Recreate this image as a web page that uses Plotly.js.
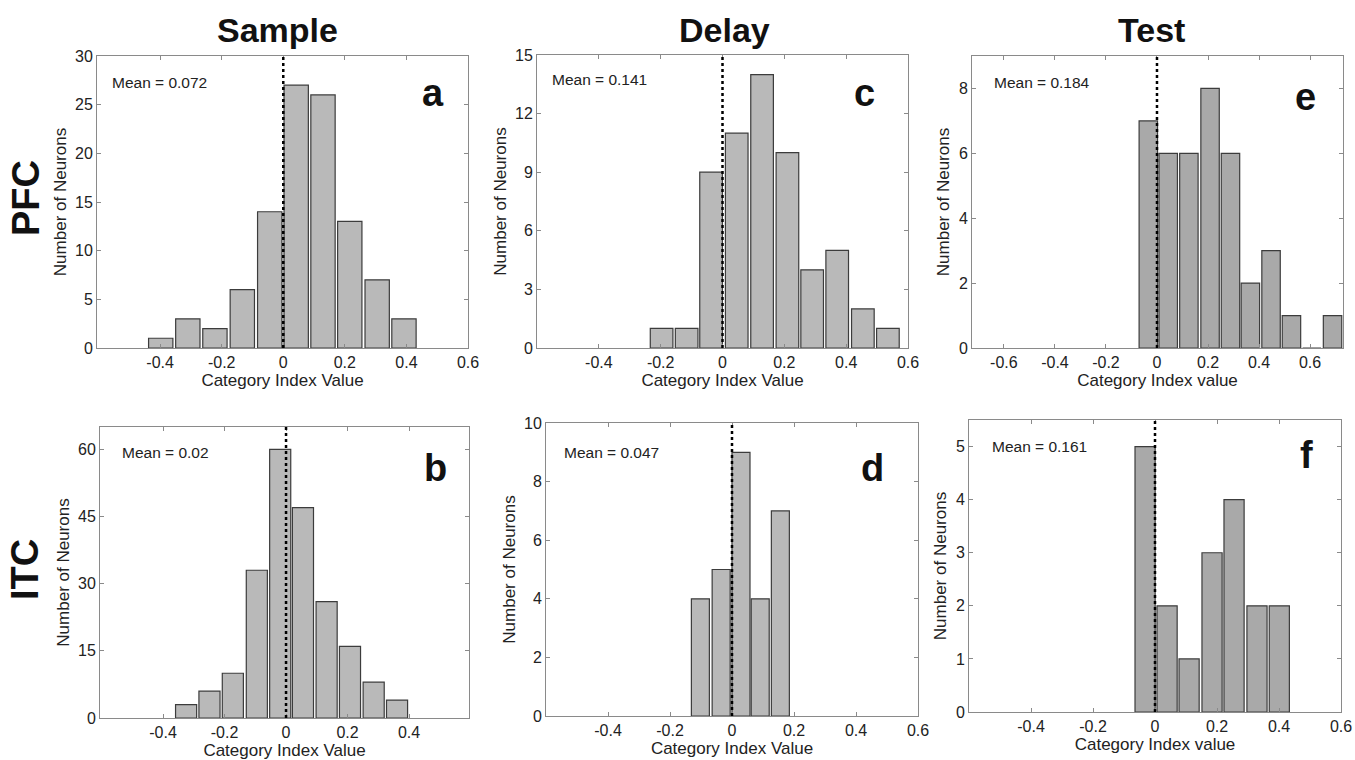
<!DOCTYPE html>
<html>
<head>
<meta charset="utf-8">
<script src="https://cdn.plot.ly/plotly-3.0.1.min.js"></script>
<style>
html,body{margin:0;padding:0;background:#fff;}
#chart{width:1355px;height:760px;}
</style>
</head>
<body>
<div id="chart"></div>
<script>
// ---- Data ----
const columnTitles = ["Sample", "Delay", "Test"];
const rowTitles = ["PFC", "ITC"];
const panelLetters = ["a", "c", "e", "b", "d", "f"];
const meanLabels = ["Mean = 0.072", "Mean = 0.141", "Mean = 0.184", "Mean = 0.02", "Mean = 0.047", "Mean = 0.161"];

// PFC – Sample (a)
const pfcSampleBins   = [-0.398, -0.310, -0.222, -0.133, -0.044, 0.042, 0.129, 0.216, 0.305, 0.392];
const pfcSampleCounts = [1, 3, 2, 6, 14, 27, 26, 13, 7, 3];
// PFC – Delay (c)
const pfcDelayBins   = [-0.197, -0.116, -0.037, 0.046, 0.128, 0.210, 0.290, 0.371, 0.454, 0.535];
const pfcDelayCounts = [1, 1, 9, 11, 14, 10, 4, 5, 2, 1];
// PFC – Test (e)
const pfcTestBins   = [-0.034, 0.044, 0.125, 0.208, 0.288, 0.366, 0.447, 0.527, 0.607, 0.688];
const pfcTestCounts = [7, 6, 6, 8, 6, 2, 3, 1, 0, 1];
// ITC – Sample (b)
const itcSampleBins   = [-0.325, -0.249, -0.173, -0.095, -0.019, 0.055, 0.132, 0.208, 0.285, 0.361];
const itcSampleCounts = [3, 6, 10, 33, 60, 47, 26, 16, 8, 4];
// ITC – Delay (d)
const itcDelayBins   = [-0.102, -0.035, 0.029, 0.091, 0.156];
const itcDelayCounts = [4, 5, 9, 4, 7];
// ITC – Test (f)
const itcTestBins   = [-0.032, 0.039, 0.110, 0.184, 0.255, 0.329, 0.401];
const itcTestCounts = [5, 2, 1, 3, 4, 2, 2];

// Tick labels
const xTicks06 = [-0.4, -0.2, 0, 0.2, 0.4, 0.6];
const xTicks06Text = ["-0.4", "-0.2", "0", "0.2", "0.4", "0.6"];
const xTicksTest = [-0.6, -0.4, -0.2, 0, 0.2, 0.4, 0.6];
const xTicksTestText = ["-0.6", "-0.4", "-0.2", "0", "0.2", "0.4", "0.6"];
const yTicksA = [0, 5, 10, 15, 20, 25, 30];
const yTicksC = [0, 3, 6, 9, 12, 15];
const yTicksE = [0, 2, 4, 6, 8];
const yTicksB = [0, 15, 30, 45, 60];
const yTicksD = [0, 2, 4, 6, 8, 10];
const yTicksF = [0, 1, 2, 3, 4, 5];
const xTitleUpper = "Category Index Value";
const xTitleLower = "Category Index value";
const yTitle = "Number of Neurons";

// ---- Layout geometry (pixels) ----
const W = 1355, H = 760;
const panels = [
  {bins: pfcSampleBins, counts: pfcSampleCounts, box:[97,468,56,348],  xr:[-0.605,0.6], yr:[0,30],  xt:xTicks06, xtt:xTicks06Text, yt:yTicksA, xtitle:xTitleUpper, fill:"#b9b9b9", mean:[0.035,0.91], letter:[0.906,0.873]},
  {bins: pfcDelayBins,  counts: pfcDelayCounts,  box:[537,908,55,348], xr:[-0.6,0.6],   yr:[0,15],  xt:xTicks06, xtt:xTicks06Text, yt:yTicksC, xtitle:xTitleUpper, fill:"#b9b9b9", mean:[0.035,0.915], letter:[0.884,0.87]},
  {bins: pfcTestBins,   counts: pfcTestCounts,   box:[972,1343,56,348],xr:[-0.725,0.729],yr:[0,9], xt:xTicksTest, xtt:xTicksTestText, yt:yTicksE, xtitle:xTitleLower, fill:"#a9a9a9", mean:[0.054,0.91], letter:[0.90,0.86]},
  {bins: itcSampleBins, counts: itcSampleCounts, box:[100,469,427,718],xr:[-0.605,0.595],yr:[0,65], xt:xTicks06, xtt:xTicks06Text, yt:yTicksB, xtitle:xTitleUpper, fill:"#b9b9b9", mean:[0.054,0.914], letter:[0.908,0.86]},
  {bins: itcDelayBins,  counts: itcDelayCounts,  box:[546,918,423,716],xr:[-0.6,0.6],   yr:[0,10],  xt:xTicks06, xtt:xTicks06Text, yt:yTicksD, xtitle:xTitleUpper, fill:"#b9b9b9", mean:[0.043,0.90], letter:[0.879,0.846]},
  {bins: itcTestBins,   counts: itcTestCounts,   box:[969,1341,420,712],xr:[-0.6,0.6],  yr:[0,5.5], xt:xTicks06, xtt:xTicks06Text, yt:yTicksF, xtitle:xTitleLower, fill:"#a9a9a9", mean:[0.057,0.91], letter:[0.906,0.88]}
];

const FONT = "Arial, 'Liberation Sans', Helvetica, sans-serif";
const data = [];
const layout = {
  width: W, height: H,
  margin: {l:0, r:0, t:0, b:0},
  paper_bgcolor: "#ffffff",
  plot_bgcolor: "#ffffff",
  showlegend: false,
  font: {family: FONT, color: "#222"},
  annotations: [],
  shapes: []
};

panels.forEach((p, i) => {
  const n = i + 1;
  const xa = "x" + (n === 1 ? "" : n), ya = "y" + (n === 1 ? "" : n);
  const step = (p.bins[p.bins.length - 1] - p.bins[0]) / (p.bins.length - 1);
  data.push({
    type: "bar", x: p.bins, y: p.counts,
    width: p.bins.map(() => step * 0.9),
    xaxis: xa, yaxis: ya,
    marker: {color: p.fill, line: {color: "#3c3c3c", width: 1.2}},
    hoverinfo: "x+y"
  });
  const axBase = {
    showline: true, mirror: "ticks", linecolor: "#8a8a8a", linewidth: 1,
    ticks: "inside", ticklen: 4, tickcolor: "#8a8a8a",
    showgrid: false, zeroline: false, automargin: false,
    tickfont: {family: FONT, size: 16, color: "#222"}
  };
  layout["xaxis" + (n === 1 ? "" : n)] = Object.assign({}, axBase, {
    domain: [p.box[0] / W, p.box[1] / W],
    anchor: ya, range: p.xr, tickmode: "array", tickvals: p.xt, ticktext: p.xtt,
    title: {text: p.xtitle, font: {family: FONT, size: 17, color: "#222"}, standoff: 2}
  });
  layout["yaxis" + (n === 1 ? "" : n)] = Object.assign({}, axBase, {
    domain: [1 - p.box[3] / H, 1 - p.box[2] / H],
    anchor: xa, range: p.yr, tickmode: "array", tickvals: p.yt,
    title: {text: yTitle, font: {family: FONT, size: 17, color: "#222"}, standoff: 4}
  });
  // dotted zero line
  layout.shapes.push({
    type: "line", xref: xa, yref: ya + " domain", x0: 0, x1: 0, y0: 0, y1: 1,
    line: {color: "#000", width: 2.5, dash: "dot"}
  });
  layout.annotations.push({
    xref: xa + " domain", yref: ya + " domain", x: p.mean[0], y: p.mean[1],
    xanchor: "left", yanchor: "middle", showarrow: false,
    text: meanLabels[i], font: {family: FONT, size: 15.5, color: "#222"}
  });
  layout.annotations.push({
    xref: xa + " domain", yref: ya + " domain", x: p.letter[0], y: p.letter[1],
    xanchor: "center", yanchor: "middle", showarrow: false,
    text: "<b>" + panelLetters[i] + "</b>", font: {family: FONT, size: 38, color: "#111"}
  });
});

// Column titles
const colCenters = [277, 724, 1151];
columnTitles.forEach((t, i) => {
  layout.annotations.push({
    xref: "paper", yref: "paper", x: colCenters[i] / W, y: 1 - 30 / H,
    xanchor: "center", yanchor: "middle", showarrow: false,
    text: "<b>" + t + "</b>", font: {family: FONT, size: 34, color: "#111"}
  });
});
// Row titles
const rowCenters = [[26, 198], [25, 570]];
rowTitles.forEach((t, i) => {
  layout.annotations.push({
    xref: "paper", yref: "paper", x: rowCenters[i][0] / W, y: 1 - rowCenters[i][1] / H,
    xanchor: "center", yanchor: "middle", showarrow: false, textangle: -90,
    text: "<b>" + t + "</b>", font: {family: FONT, size: 38, color: "#111"}
  });
});

Plotly.newPlot("chart", data, layout, {displayModeBar: false, staticPlot: true});
</script>
</body>
</html>
